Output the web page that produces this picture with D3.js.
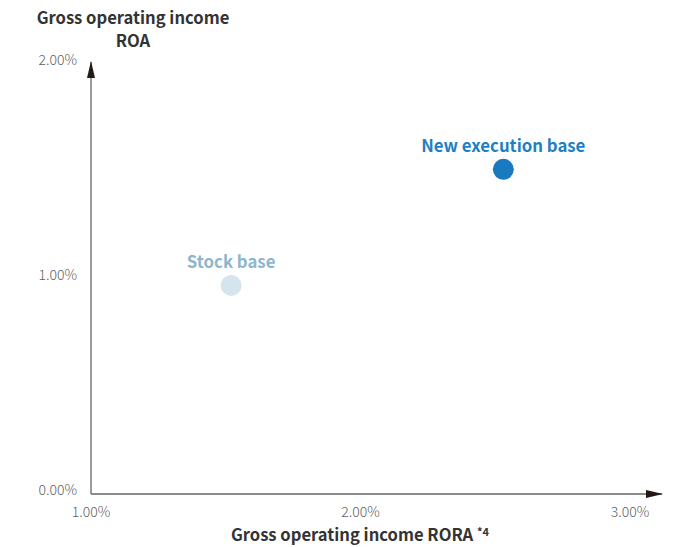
<!DOCTYPE html>
<html lang="en">
<head>
<meta charset="utf-8">
<title>Gross operating income ROA vs RORA</title>
<script src="https://cdn.jsdelivr.net/npm/d3@7"></script>
<style>
  body { margin: 0; background: #fff; font-family: "Noto Sans CJK JP", "Noto Sans", sans-serif; }
  .tick-label { fill: #5f5f5f; font-size: 14px; font-weight: 300; }
  .axis-title { fill: #333; font-size: 16.6px; font-weight: 600; }
  .pt-label { font-size: 16.8px; font-weight: 600; }
</style>
</head>
<body>
<svg id="chart" width="683" height="547"></svg>
<script>
// data
const names = ["Stock base", "New execution base"]
const rora = [1.52, 2.53]   // x, %
const roa = [0.97, 1.51]    // y, %
const colors = ["#d5e5ee", "#1a7abf"]
const labelColors = ["#8db6cd", "#1f7fc2"]
const xTicks = [1, 2, 3]
const yTicks = [0, 1, 2]

const svg = d3.select("#chart")

const x = d3.scaleLinear().domain([1, 3]).range([91, 630])
const y = d3.scaleLinear().domain([0, 2]).range([494, 64])

// arrow heads (narrow)
const defs = svg.append("defs")
defs.append("marker")
    .attr("id", "arr")
    .attr("viewBox", "0 0 17 8")
    .attr("refX", 16).attr("refY", 4)
    .attr("markerWidth", 17).attr("markerHeight", 8)
    .attr("markerUnits", "userSpaceOnUse")
    .attr("orient", "auto")
  .append("path")
    .attr("d", "M0,0 L17,4 L0,8 Z")
    .attr("fill", "#231815")

// axes lines
svg.append("line")
    .attr("x1", x(1)).attr("y1", y(0))
    .attr("x2", x(1)).attr("y2", 62)
    .attr("stroke", "#666").attr("stroke-width", 1.3)
    .attr("marker-end", "url(#arr)")
svg.append("line")
    .attr("x1", x(1)).attr("y1", y(0))
    .attr("x2", 662).attr("y2", y(0))
    .attr("stroke", "#666").attr("stroke-width", 1.3)
    .attr("marker-end", "url(#arr)")

const fmt = d => d3.format(".2f")(d) + "%"

svg.selectAll(".ytick")
  .data(yTicks)
  .join("text")
    .attr("class", "tick-label")
    .attr("x", 77)
    .attr("y", d => y(d) - 3)
    .attr("text-anchor", "end")
    .attr("dominant-baseline", "middle")
    .text(fmt)

svg.selectAll(".xtick")
  .data(xTicks)
  .join("text")
    .attr("class", "tick-label")
    .attr("x", d => x(d))
    .attr("y", 517)
    .attr("text-anchor", "middle")
    .text(fmt)

// axis titles
svg.append("text").attr("class", "axis-title")
    .attr("x", 133).attr("y", 24).attr("text-anchor", "middle")
    .text("Gross operating income")
svg.append("text").attr("class", "axis-title")
    .attr("x", 133).attr("y", 47).attr("text-anchor", "middle")
    .text("ROA")
const xt = svg.append("text").attr("class", "axis-title")
    .attr("x", 360).attr("y", 541).attr("text-anchor", "middle")
xt.append("tspan").text("Gross operating income RORA ")
xt.append("tspan").attr("font-size", 11).attr("dy", -5).text("*4")

// points
const pts = names.map((n, i) => ({ name: n, x: rora[i], y: roa[i], c: colors[i], lc: labelColors[i] }))

svg.selectAll(".pt")
  .data(pts)
  .join("circle")
    .attr("cx", d => x(d.x))
    .attr("cy", d => y(d.y))
    .attr("r", 10.5)
    .attr("fill", d => d.c)

svg.selectAll(".pt-label")
  .data(pts)
  .join("text")
    .attr("class", "pt-label")
    .attr("x", d => x(d.x))
    .attr("y", d => y(d.y) - 17)
    .attr("text-anchor", "middle")
    .attr("fill", d => d.lc)
    .text(d => d.name)
</script>
</body>
</html>
